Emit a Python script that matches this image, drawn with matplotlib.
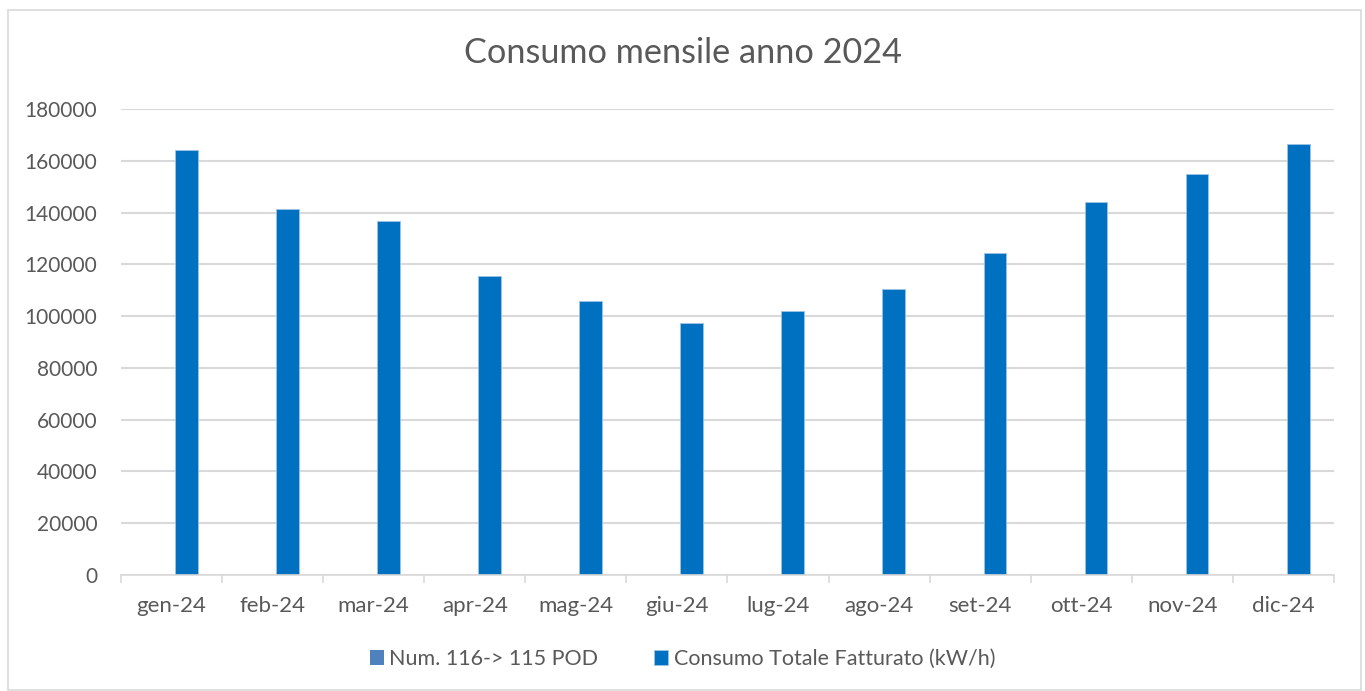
import numpy as np
import matplotlib
matplotlib.use("Agg")
import matplotlib.pyplot as plt
from matplotlib.patches import Rectangle

# Dati
mesi = ["gen-24", "feb-24", "mar-24", "apr-24", "mag-24", "giu-24",
        "lug-24", "ago-24", "set-24", "ott-24", "nov-24", "dic-24"]
num_pod = [116, 116, 116, 116, 116, 116, 115, 115, 115, 115, 115, 115]
consumo = [164300, 141500, 136800, 115500, 105800, 97200,
           102000, 110400, 124400, 144000, 154700, 166300]
yticks = np.arange(0, 180001, 20000)

grigio = "#595959"
plt.rcParams['font.family'] = ['Lato', 'DejaVu Sans']

fig = plt.figure(figsize=(13.65, 6.91), dpi=100)
ax = fig.add_axes([121/1365, 1 - 575/691, (1334 - 121)/1365, (575 - 109)/691])

x = np.arange(len(mesi))
w = 0.225
ax.bar(x - 0.005, num_pod, width=-w, align='edge', color="#4F81BD",
       label="Num. 116-> 115 POD")
ax.bar(x + 0.033, consumo, width=w, align='edge', color="#0070C0",
       edgecolor="#9DC3E6", linewidth=0.6, label="Consumo Totale Fatturato (kW/h)")

ax.set_xlim(-0.5, len(mesi) - 0.5)
ax.set_ylim(0, 180000)
ax.set_yticks(yticks)
ax.set_yticklabels([str(v) for v in yticks])
ax.grid(axis='y', color="#D9D9D9", linewidth=1.5)
ax.set_axisbelow(True)

# asse x con tacche tra le categorie
ax.set_xticks(x)
ax.set_xticklabels(mesi)
ax.set_xticks(np.arange(-0.5, len(mesi)), minor=True)
ax.tick_params(axis='x', which='major', length=0, pad=15, labelsize=16, labelcolor=grigio)
ax.tick_params(axis='x', which='minor', length=6, width=1.2, color="#D9D9D9")
ax.tick_params(axis='y', length=0, pad=17, labelsize=15, labelcolor=grigio)
for s in ['top', 'right', 'left']:
    ax.spines[s].set_visible(False)
ax.spines['bottom'].set_color("#D9D9D9")
ax.spines['bottom'].set_linewidth(1.2)

fig.text(0.5, 1 - 53/691, "Consumo mensile anno 2024", ha='center', va='center',
         fontsize=24.7, color=grigio)

leg = fig.legend(loc='center', bbox_to_anchor=(0.5, 1 - 659/691), ncol=2, frameon=False,
                 fontsize=15.5, handlelength=0.65, handleheight=0.65, handletextpad=0.25,
                 columnspacing=2.6)
for t in leg.get_texts():
    t.set_color(grigio)

# bordo del grafico
fig.patches.append(Rectangle((8/1365, 0.002), (1361 - 8)/1365, 1 - 10/691 - 0.002,
                             transform=fig.transFigure, fill=False,
                             edgecolor="#D9D9D9", linewidth=1.2))

fig.savefig("out.png", dpi=100)
